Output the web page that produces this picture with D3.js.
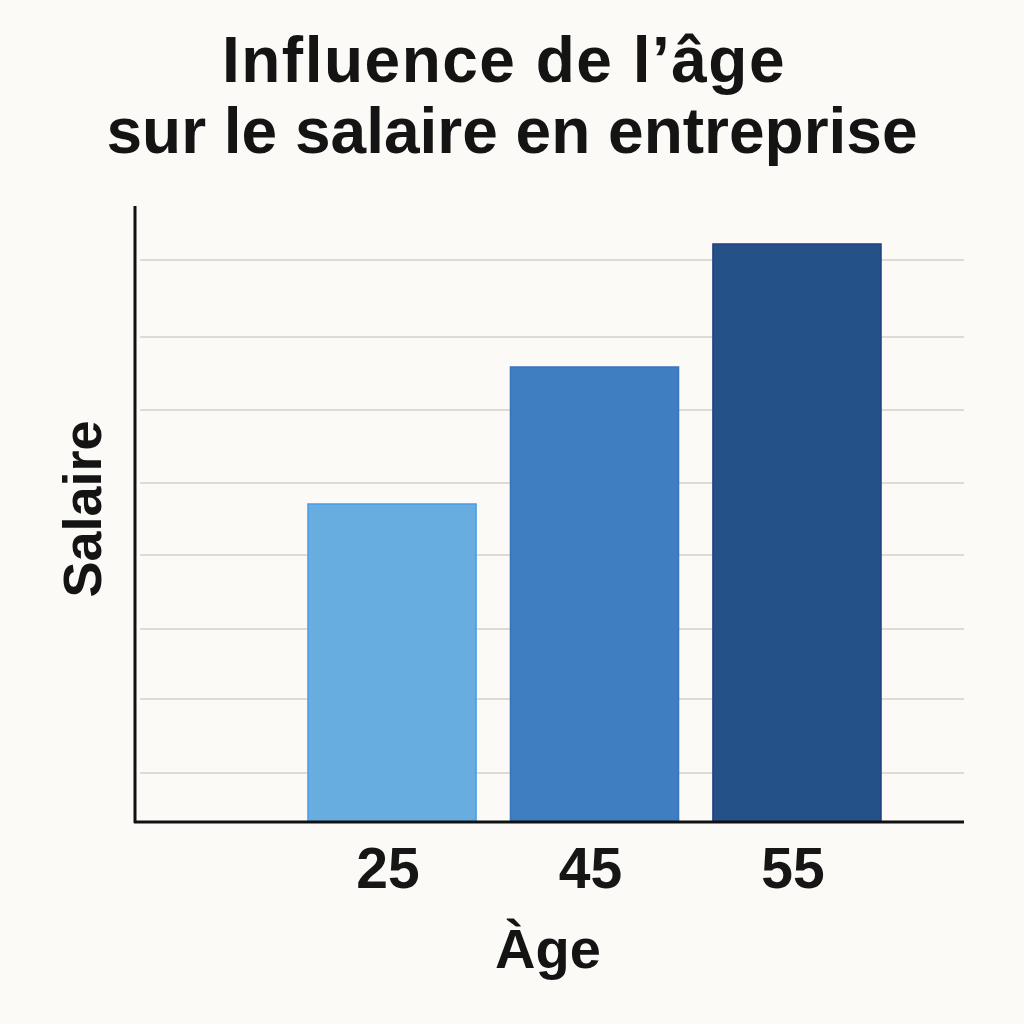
<!DOCTYPE html>
<html><head><meta charset="utf-8">
<script src="https://cdn.jsdelivr.net/npm/d3@7"></script>
<style>html,body{margin:0;padding:0;background:#fbfaf7;}svg{display:block;}</style>
</head><body>
<svg id="c" width="1024" height="1024"></svg>
<script>
const titleLines = ["Influence de l’âge", "sur le salaire en entreprise"];
const ages = ["25", "45", "55"];
const salaries = [31.8, 45.5, 57.8];
const gridValues = [4.9, 12.3, 19.3, 26.7, 33.9, 41.2, 48.5, 56.2];
const barColors = ["#68ade0", "#3e7ec1", "#255189"];
const barStrokes = ["#4a9be6", "#3a74bd", "#1f3f80"];
const xLabel = "Àge";
const yLabel = "Salaire";

const svg = d3.select("#c");
svg.append("rect").attr("width",1024).attr("height",1024).attr("fill","#fbfaf7");
const font = "'Liberation Sans', Arial, Helvetica, sans-serif";

const x = d3.scaleBand().domain(ages).range([308, 881]).paddingInner(0.17).paddingOuter(0);
const y = d3.scaleLinear().domain([0, 61.5]).range([822, 207]);

// gridlines
svg.append("g").selectAll("line").data(gridValues).join("line")
  .attr("x1", 140).attr("x2", 964)
  .attr("y1", d => y(d)).attr("y2", d => y(d))
  .attr("stroke", "#dddbd6").attr("stroke-width", 2);

// bars
svg.append("g").selectAll("rect").data(ages).join("rect")
  .attr("x", d => x(d)).attr("width", x.bandwidth())
  .attr("y", (d,i) => y(salaries[i])).attr("height", (d,i) => y(0) - y(salaries[i]))
  .attr("fill", (d,i) => barColors[i])
  .attr("stroke", (d,i) => barStrokes[i]).attr("stroke-width", 1.5);

// axes
const xAxis = d3.axisBottom(x).tickSize(0).tickPadding(26);
const gx = svg.append("g").attr("transform", "translate(0,822)").call(xAxis);
gx.select(".domain").remove();
gx.selectAll("text").attr("font-family", font).attr("font-size", 57).attr("font-weight", 700).attr("fill", "#161616").attr("dy", "0.71em")
  .attr("dx", -4);
svg.append("line").attr("x1", 134).attr("x2", 964).attr("y1", 822).attr("y2", 822).attr("stroke", "#111").attr("stroke-width", 3);
svg.append("line").attr("x1", 135).attr("x2", 135).attr("y1", 206).attr("y2", 823).attr("stroke", "#111").attr("stroke-width", 3);

// title
svg.append("g").selectAll("text").data(titleLines).join("text")
  .attr("x", (d,i) => i === 0 ? 504 : 512)
  .attr("y", (d,i) => 82 + i * 71)
  .attr("text-anchor", "middle")
  .attr("letter-spacing", (d,i) => i === 0 ? 1.5 : 0)
  .attr("font-family", font).attr("font-size", 64).attr("font-weight", 700)
  .attr("fill", "#141414").text(d => d);

// axis labels
svg.append("text").attr("x", 548).attr("y", 968).attr("text-anchor", "middle")
  .attr("font-family", font).attr("font-size", 56).attr("font-weight", 700).attr("fill", "#141414").text(xLabel);
svg.append("text").attr("transform", "translate(101,509) rotate(-90)").attr("text-anchor", "middle")
  .attr("font-family", font).attr("font-size", 54).attr("font-weight", 700).attr("fill", "#141414").text(yLabel);
</script>
</body></html>
